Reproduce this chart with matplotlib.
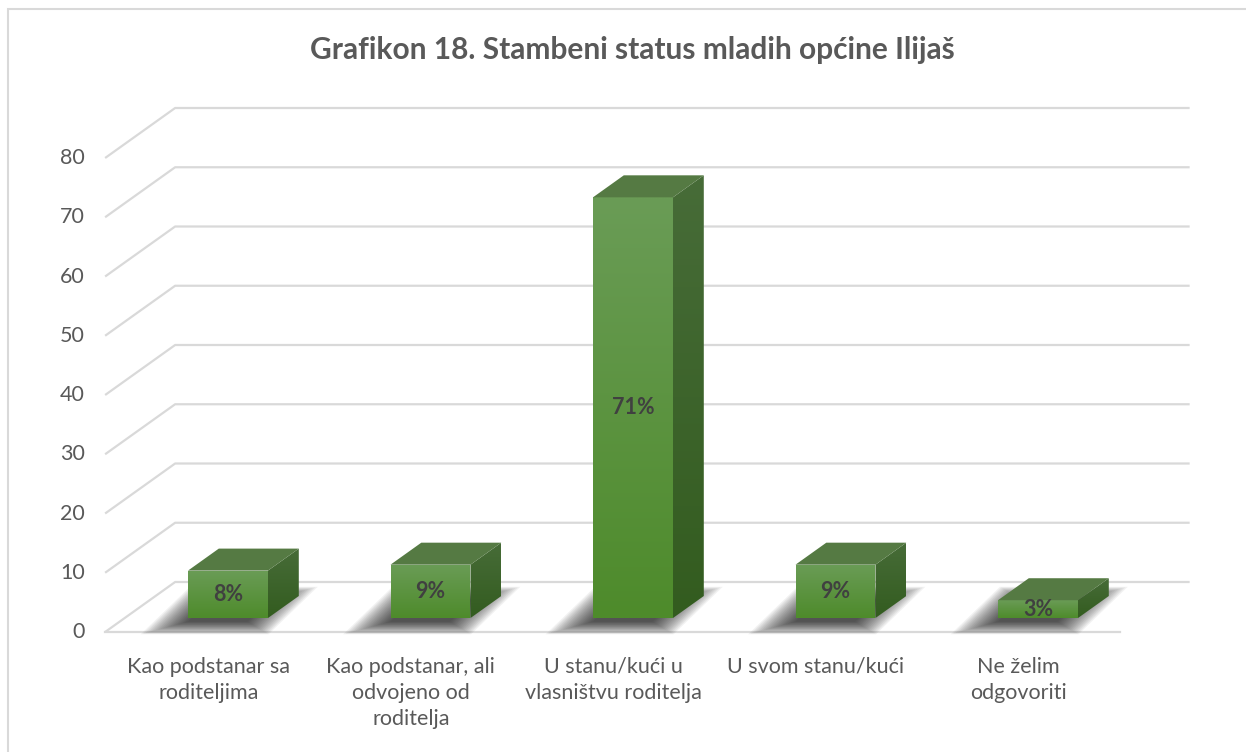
import numpy as np
import matplotlib
matplotlib.use("Agg")
import matplotlib.pyplot as plt
from matplotlib.patches import Polygon, Rectangle

plt.rcParams['font.family'] = ['Lato', 'DejaVu Sans']

# data
title = "Grafikon 18. Stambeni status mladih općine Ilijaš"
categories = ["Kao podstanar sa\nroditeljima",
              "Kao podstanar, ali\nodvojeno od\nroditelja",
              "U stanu/kući u\nvlasništvu roditelja",
              "U svom stanu/kući",
              "Ne želim\nodgovoriti"]
values = [8, 9, 71, 9, 3]
labels = ["8%", "9%", "71%", "9%", "3%"]
yticks = [0, 10, 20, 30, 40, 50, 60, 70, 80]

# pixel scale of the drawing (x: px per category, y: px per unit)
PX_CAT = 202.5
PX_VAL = 5.925
X0 = 208.4   # pixel x of category 0 on the front plane
Y0 = 632     # pixel y (from top) of value 0 on the front plane
DEPTH_X = 70 / PX_CAT
DEPTH_Y = 50 / PX_VAL


def proj(x, v, d):
    return (x + d * DEPTH_X, v + d * DEPTH_Y)


fig = plt.figure(figsize=(12.46, 7.52), dpi=100)
ax = fig.add_axes([0, 0, 1, 1])
ax.set_xlim(-X0 / PX_CAT, (1246 - X0) / PX_CAT)
ax.set_ylim((Y0 - 752) / PX_VAL, Y0 / PX_VAL)
ax.axis('off')

# chart frame (runs off the right and bottom edges)
fig.patches.append(Rectangle((8 / 1246, -0.1), 1.2, 1.1 - 9 / 752,
                             transform=fig.transFigure, fill=False,
                             ec="#d9d9d9", lw=1.5))

xl, xr = -0.51, 4.5
grid_c = "#d9d9d9"
for v in yticks:
    p0 = proj(xl, v, 0)
    p1 = proj(xl, v, 1)
    p2 = proj(xr, v, 1)
    ax.plot([p0[0], p1[0], p2[0]], [p0[1], p1[1], p2[1]], color=grid_c,
            lw=1.6, zorder=1, solid_capstyle='butt')
    ax.text(xl - 0.1, v, str(v), ha='right', va='center', fontsize=15.5,
            color="#595959")
f0 = proj(xl, 0, 0)
f1 = proj(xr, 0, 0)
ax.plot([f0[0], f1[0]], [f0[1], f1[1]], color=grid_c, lw=1.6, zorder=1)

w = 0.1975
d0, d1 = 0.28, 0.72
grad = np.linspace(0, 1, 100).reshape(-1, 1)
shift = np.array([-0.07, -0.6])
for i, v in enumerate(values):
    # soft shadow: blurred copy of the footprint, nudged down-left
    foot = np.array([proj(i - w, 0, d0), proj(i + w, 0, d0),
                     proj(i + w, 0, d1), proj(i - w, 0, d1)]) + shift
    c = foot.mean(axis=0)
    for s in np.linspace(1.6, 0.75, 20):
        pts = c + (foot - c) * np.array([s, s * 1.35])
        ax.add_patch(Polygon(pts, closed=True, fc="black", ec="none",
                             alpha=0.05, zorder=2))

    front = Polygon([proj(i - w, 0, d0), proj(i + w, 0, d0),
                     proj(i + w, v, d0), proj(i - w, v, d0)],
                    closed=True, fc="none", ec="none", zorder=4)
    ax.add_patch(front)
    fx0, fy0 = proj(i - w, 0, d0)
    fx1, fy1 = proj(i + w, v, d0)
    c_top = np.array([0x6a, 0x9c, 0x56]) / 255
    c_bot = np.array([0x4e, 0x8b, 0x2b]) / 255
    img = c_bot + (c_top - c_bot) * grad
    im = ax.imshow(img.reshape(100, 1, 3), extent=[fx0, fx1, fy0, fy1],
                   origin='lower', aspect='auto', zorder=4,
                   interpolation='bilinear')
    im.set_clip_path(front)

    top = Polygon([proj(i - w, v, d0), proj(i + w, v, d0),
                   proj(i + w, v, d1), proj(i - w, v, d1)],
                  closed=True, fc="#557a43", ec="none", zorder=5)
    ax.add_patch(top)
    side = Polygon([proj(i + w, 0, d0), proj(i + w, 0, d1),
                    proj(i + w, v, d1), proj(i + w, v, d0)],
                   closed=True, fc="none", ec="none", zorder=4)
    ax.add_patch(side)
    sx0, sy0 = proj(i + w, 0, d0)
    sx1, sy1 = proj(i + w, v, d1)
    s_top = np.array([0x47, 0x6c, 0x38]) / 255
    s_bot = np.array([0x33, 0x5c, 0x1f]) / 255
    simg = s_bot + (s_top - s_bot) * grad
    sim = ax.imshow(simg.reshape(100, 1, 3), extent=[sx0, sx1, sy0, sy1],
                    origin='lower', aspect='auto', zorder=4,
                    interpolation='bilinear')
    sim.set_clip_path(side)

    lx, ly = proj(i, v / 2, d0)
    ax.text(lx, ly, labels[i], ha='center', va='center', fontsize=15.5,
            fontweight='bold', color="#404040", zorder=6)

    ax.text(i, -4.2, categories[i], ha='center', va='top', fontsize=15.5,
            color="#595959", linespacing=1.38)

ax.text(632 / 1246, 1 - 50 / 752, title, transform=ax.transAxes,
        ha='center', va='center', fontsize=21.5, fontweight='bold',
        color="#595959")

fig.savefig("out.png", dpi=100)
